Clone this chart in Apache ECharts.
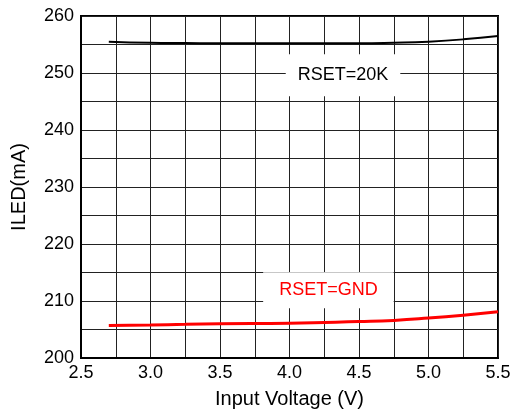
<!DOCTYPE html>
<html><head><meta charset="utf-8">
<script src="https://cdn.jsdelivr.net/npm/echarts@6/dist/echarts.min.js"></script>
<style>html,body{margin:0;padding:0;background:#fff}#c{width:512px;height:416px}</style>
</head><body><div id="c"></div>
<script>
var voltages = [2.7, 3.0, 3.25, 3.5, 4.0, 4.5, 4.75, 5.0, 5.25, 5.5];
var iled20K = [255.5, 255.3, 255.25, 255.2, 255.2, 255.2, 255.3, 255.5, 255.9, 256.5];
var iledGND = [205.7, 205.8, 205.9, 206.0, 206.1, 206.4, 206.6, 207.0, 207.5, 208.1];
var xTicks = ['2.5','3.0','3.5','4.0','4.5','5.0','5.5'];
var yTicks = ['200','210','220','230','240','250','260'];
var label20K = {text: 'RSET=20K', x: 4.385, y: 249.6};
var labelGND = {text: 'RSET=GND', x: 4.28, y: 211.9};

function pairs(xs, ys){ return xs.map(function(x,i){return [x, ys[i]];}); }
var font = 'Liberation Sans, Arial, sans-serif';
var chart = echarts.init(document.getElementById('c'));
chart.setOption({
  animation: false,
  backgroundColor: '#fff',
  grid: {left: 81, right: 14, top: 16, bottom: 58, show: true, borderColor: '#000', borderWidth: 2, backgroundColor: 'transparent',
         containLabel: false, outerBoundsMode: 'none'},
  xAxis: {
    type: 'value', min: 2.5, max: 5.5, interval: 0.25,
    name: 'Input Voltage (V)', nameLocation: 'middle', nameGap: 31,
    nameTextStyle: {fontFamily: font, fontSize: 20, color: '#000'},
    axisLine: {show: true, lineStyle: {color: '#000', width: 2}},
    axisTick: {show: false},
    axisLabel: {fontFamily: font, fontSize: 18, color: '#000', margin: 6,
      formatter: function(v){ var s = v.toFixed(1); return xTicks.indexOf(s) >= 0 && Math.abs(v*2 - Math.round(v*2)) < 1e-6 ? s : ''; }},
    splitLine: {show: true, lineStyle: {color: '#222', width: 1}}
  },
  yAxis: {
    type: 'value', min: 200, max: 260, interval: 5,
    name: 'ILED(mA)', nameLocation: 'middle', nameGap: 52, nameRotate: 90,
    nameTextStyle: {fontFamily: font, fontSize: 20, color: '#000'},
    axisLine: {show: true, lineStyle: {color: '#000', width: 2}},
    axisTick: {show: false},
    axisLabel: {fontFamily: font, fontSize: 18, color: '#000', margin: 7,
      formatter: function(v){ var s = String(Math.round(v)); return yTicks.indexOf(s) >= 0 ? s : ''; }},
    splitLine: {show: true, lineStyle: {color: '#222', width: 1}}
  },
  series: [
    {type: 'line', data: pairs(voltages, iled20K), smooth: true, symbol: 'none',
     lineStyle: {color: '#000', width: 2},
     markPoint: {symbol: 'rect', symbolSize: 1, itemStyle: {color: 'rgba(0,0,0,0)'},
       data: [{coord: [label20K.x, label20K.y], value: label20K.text,
         label: {show: true, position: 'inside', formatter: label20K.text, fontFamily: font, fontSize: 18, color: '#000',
           backgroundColor: '#fff', padding: [12, 12]}}]}},
    {type: 'line', data: pairs(voltages, iledGND), smooth: true, symbol: 'none',
     lineStyle: {color: '#ff0000', width: 3},
     markPoint: {symbol: 'rect', symbolSize: 1, itemStyle: {color: 'rgba(0,0,0,0)'},
       data: [{coord: [labelGND.x, labelGND.y], value: labelGND.text,
         label: {show: true, position: 'inside', formatter: labelGND.text, fontFamily: font, fontSize: 18, color: '#ff0000',
           backgroundColor: '#fff', padding: [9, 16]}}]}}
  ]
});
</script></body></html>
